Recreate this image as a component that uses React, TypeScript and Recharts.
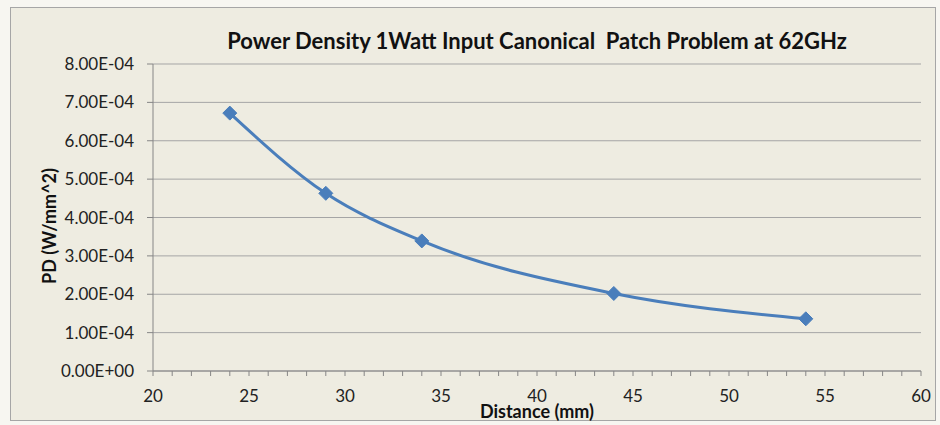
import { LineChart, Line, XAxis, YAxis, CartesianGrid } from 'recharts';

const distances = [24, 29, 34, 44, 54];
const powerDensity = [6.72e-4, 4.63e-4, 3.39e-4, 2.02e-4, 1.36e-4];
const xTicks = Array.from({ length: 41 }, (_, i) => 20 + i);
const yTicks = [0, 1e-4, 2e-4, 3e-4, 4e-4, 5e-4, 6e-4, 7e-4, 8e-4];

const data = distances.map((d, i) => ({ distance: d, pd: powerDensity[i] }));

const font = "Lato, 'Open Sans', sans-serif";

const fmtExp = (v: number) => {
  if (v === 0) return '0.00E+00';
  const e = Math.floor(Math.log10(Math.abs(v)) + 1e-9);
  const m = v / Math.pow(10, e);
  const sign = e < 0 ? '-' : '+';
  return `${m.toFixed(2)}E${sign}${String(Math.abs(e)).padStart(2, '0')}`;
};

const Diamond = (props: any) => {
  const { cx, cy } = props;
  if (cx == null || cy == null) return null;
  const r = 7;
  return (
    <polygon
      points={`${cx},${cy - r} ${cx + r},${cy} ${cx},${cy + r} ${cx - r},${cy}`}
      fill="#4A7EBB"
      stroke="#4A7EBB"
    />
  );
};

const XTick = (props: any) => {
  const { x, y, payload } = props;
  if (payload.value % 5 !== 0) return null;
  return (
    <text x={x} y={y} dy={18} textAnchor="middle" fill="#222" fontSize={17} fontFamily={font}>
      {payload.value}
    </text>
  );
};

export default function App() {
  return (
    <div style={{ position: 'absolute', left: 0, top: 0, width: 940, height: 425, background: '#F7F6F1' }}>
      <div
        style={{
          position: 'absolute',
          left: 10,
          top: 7,
          width: 926,
          height: 414,
          background: '#EEECE1',
          border: '1px solid #A6A6A6',
          boxSizing: 'border-box',
        }}
      />
      <div style={{ position: 'absolute', left: 0, top: 0 }}>
        <LineChart width={940} height={425} data={data} margin={{ top: 64, right: 19, bottom: 0, left: 0 }}>
          <CartesianGrid vertical={false} stroke="#A5A5A5" strokeWidth={1} />
          <XAxis
            dataKey="distance"
            type="number"
            domain={[20, 60]}
            ticks={xTicks}
            interval={0}
            height={54}
            tick={<XTick />}
            tickSize={5}
            tickMargin={8}
            stroke="#868686"
            axisLine={{ stroke: '#868686' }}
            tickLine={{ stroke: '#868686' }}
          />
          <YAxis
            type="number"
            domain={[0, 8e-4]}
            ticks={yTicks}
            interval={0}
            width={153}
            tickFormatter={fmtExp}
            tickSize={6}
            tickMargin={13}
            tick={{ fill: '#222', fontSize: 17, fontFamily: font }}
            stroke="#868686"
          />
          <Line
            type="monotone"
            dataKey="pd"
            stroke="#4A7EBB"
            strokeWidth={3}
            dot={<Diamond />}
            activeDot={false}
            isAnimationActive={false}
          />
        </LineChart>
      </div>
      <div
        style={{
          position: 'absolute',
          left: 153,
          width: 768,
          top: 27,
          textAlign: 'center',
          fontFamily: font,
          fontWeight: 700,
          fontSize: 22,
          lineHeight: '28px',
          color: '#111',
        }}
      >
        Power Density 1Watt Input Canonical&nbsp; Patch Problem at 62GHz
      </div>
      <div
        style={{
          position: 'absolute',
          left: 153,
          width: 768,
          top: 404,
          textAlign: 'center',
          fontFamily: font,
          fontWeight: 700,
          fontSize: 18,
          lineHeight: '14px',
          color: '#111',
        }}
      >
        Distance (mm)
      </div>
      <div
        style={{
          position: 'absolute',
          left: 49,
          top: 226,
          transform: 'translate(-50%, -50%) rotate(-90deg)',
          whiteSpace: 'nowrap',
          fontFamily: font,
          fontWeight: 700,
          fontSize: 18,
          lineHeight: '20px',
          color: '#111',
        }}
      >
        PD (W/mm^2)
      </div>
    </div>
  );
}
